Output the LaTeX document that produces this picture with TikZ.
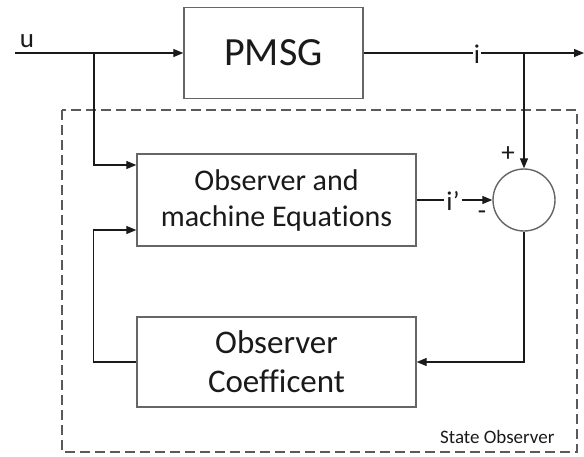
\documentclass[tikz,border=0pt]{standalone}
\usepackage{fontspec}
\setmainfont[Ligatures=NoCommon]{Carlito}
\usetikzlibrary{arrows.meta, positioning}
\definecolor{Ink}{HTML}{1A1A1A}
\definecolor{Edge}{HTML}{666666}
\definecolor{Frame}{HTML}{5A5A5A}

\begin{document}
\begin{tikzpicture}[x=1pt, y=-1pt,
  block/.style={draw=Edge, line width=1.4pt, fill=white, align=center, inner sep=0pt, text=Ink},
  sumnode/.style={circle, draw=Edge, line width=1.4pt, fill=white, minimum size=62pt, inner sep=0pt},
  lbl/.style={font=\fontsize{27}{30}\selectfont, text=Ink, inner sep=1pt},
  arrow/.style={-{Triangle[length=10pt, width=8pt]}, line width=1.2pt, draw=Ink},
  wire/.style={line width=1.2pt, draw=Ink}
]
\useasboundingbox (0,0) rectangle (584,456);

% dashed frame of the observer
\draw[draw=Frame, line width=1.3pt, dash pattern=on 10pt off 5pt] (62,110) rectangle (577,452);
\node[font=\fontsize{19}{22}\selectfont, text=Ink, anchor=base east] (tag) at (558,443) {State Observer};

% blocks
\node[block, minimum width=179pt, minimum height=91pt, font=\fontsize{40}{46}\selectfont] (pmsg) at (273.5,53) {PMSG};
\node[block, minimum width=279pt, minimum height=92pt, font=\fontsize{30}{36}\selectfont] (eqs) at (276.5,200) {Observer and\\machine Equations};
\node[block, minimum width=279pt, minimum height=90pt, font=\fontsize{33}{39}\selectfont] (coef) at (276.5,362) {Observer\\Coefficent};
\node[sumnode] (sum) at (524,200) {};

% branch points
\coordinate (in) at (15,53);
\coordinate (tapu) at (94,53);
\coordinate (tapi) at (524,53);
\coordinate (out) at (584,53);

% signal lines
\draw[arrow] (in) -- (pmsg.west);
\draw[arrow] (pmsg.east) -- (out);
\draw[arrow] (tapi) -- (sum.north);
\draw[arrow] (tapu) |- ([yshift=35pt]eqs.west);
\draw[arrow] (eqs.east) -- (sum.west);
\draw[arrow] (sum.south) |- (coef.east);
\draw[arrow] (coef.west) -- ++(-43,0) |- ([yshift=-30pt]eqs.west);

% labels
\node[lbl, anchor=base] (ulbl) at (27,47) {u};
\node[lbl, anchor=base, fill=white] (ilbl) at (477,63) {i};
\node[lbl, anchor=base, fill=white, inner xsep=2pt] (iplbl) at (453,210) {i’};
\node[lbl] (plus) at (508,154) {+};
\node[lbl] (minus) at (482,215) {-};
\end{tikzpicture}
\end{document}
